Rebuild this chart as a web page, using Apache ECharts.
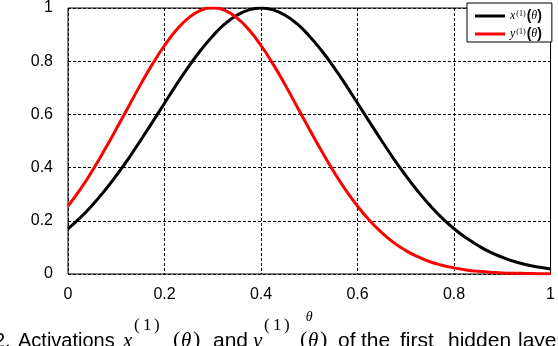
<!DOCTYPE html>
<html><head><meta charset="utf-8">
<script src="https://cdn.jsdelivr.net/npm/echarts@6/dist/echarts.min.js"></script>
<style>html,body{margin:0;padding:0;background:#fff;}#c{width:558px;height:346px;}</style>
</head><body><div id="c"></div>
<script>
const thetas = [0,0.025,0.05,0.075,0.1,0.125,0.15,0.175,0.2,0.225,0.25,0.275,0.3,0.325,0.35,0.375,0.4,0.425,0.45,0.475,0.5,0.525,0.55,0.575,0.6,0.625,0.65,0.675,0.7,0.725,0.75,0.775,0.8,0.825,0.85,0.875,0.9,0.925,0.95,0.975,1.0];
const xAct = [0.170,0.211,0.258,0.311,0.370,0.433,0.501,0.571,0.642,0.713,0.780,0.841,0.895,0.940,0.973,0.993,1.000,0.993,0.973,0.940,0.895,0.841,0.780,0.713,0.642,0.571,0.501,0.433,0.370,0.311,0.258,0.211,0.170,0.136,0.107,0.082,0.063,0.047,0.035,0.026,0.019];
const yAct = [0.255,0.317,0.387,0.464,0.545,0.628,0.711,0.789,0.859,0.918,0.963,0.991,1.000,0.991,0.963,0.918,0.859,0.789,0.711,0.628,0.545,0.464,0.387,0.317,0.255,0.201,0.156,0.118,0.088,0.065,0.046,0.033,0.023,0.015,0.010,0.007,0.004,0.003,0.002,0.001,0.001];
const xTicks = [0,0.2,0.4,0.6,0.8,1];
const yTicks = [0,0.2,0.4,0.6,0.8,1];
const seriesNames = ['x','y'];
// caption pieces: [text, kind]
const captionPieces = [
  ['2.','n'],['Activations','n'],['x','m'],['(','s'],['1','s'],[')','s'],['(','p'],['θ','m'],[')','p'],
  ['and','w'],['y','m'],['(','s'],['1','s'],[')','s'],['(','p'],['θ','m'],[')','p'],
  ['of','w'],['the','w'],['first','w'],['hidden','w'],['layer','w']
];
const captionX = [-6,18,123,134,143,154,173,181,193,213,253,264,273,284,300,308,320,338,361,400,448,518];

const serif = 'Liberation Serif';
const sans = 'Liberation Sans';
const kindStyle = {
  n:{font:'20px "Liberation Sans"', y:341},
  w:{font:'21px "Liberation Sans"', y:341},
  m:{font:'italic 21px "Liberation Serif"', y:341},
  p:{font:'22px "Liberation Serif"', y:340},
  s:{font:'17px "Liberation Serif"', y:326}
};
const graphics = captionPieces.map((p,i)=>({
  type:'text', z:10, silent:true,
  style:{text:p[0], x:captionX[i], y:kindStyle[p[1]].y, font:kindStyle[p[1]].font,
         fill:'#000', align:'left', verticalAlign:'middle'}
}));

const chart = echarts.init(document.getElementById('c'), null, {renderer:'canvas'});
const gridLine = {show:true, lineStyle:{color:'#000', type:[3,2], width:1}};
chart.setOption({
  animation:false,
  grid:{left:68, right:2, top:3, bottom:72, show:true, borderColor:'#000', borderWidth:1},
  xAxis:{type:'value', min:xTicks[0], max:xTicks[xTicks.length-1], interval:0.2,
    axisLine:{show:false}, axisTick:{show:false}, splitLine:gridLine,
    axisLabel:{color:'#000', fontFamily:sans, fontSize:16, margin:13},
    name:'θ', nameLocation:'middle', nameGap:36,
    nameTextStyle:{color:'#000', fontFamily:serif, fontStyle:'italic', fontSize:14}},
  yAxis:{type:'value', min:yTicks[0], max:yTicks[yTicks.length-1], interval:0.2,
    axisLine:{show:false}, axisTick:{show:false}, splitLine:gridLine,
    axisLabel:{color:'#000', fontFamily:sans, fontSize:16, margin:15}},
  legend:{orient:'vertical', left:467, top:3, itemWidth:30, itemHeight:3, itemGap:4,
    padding:[6,10,1,8], borderColor:'#000', borderWidth:1, backgroundColor:'#fff',
    icon:'rect',
    data:seriesNames,
    formatter:n => '{i|'+n+'}{s|(1)}{p|(}{i|θ}{p|)}',
    textStyle:{color:'#000', fontSize:12, lineHeight:12, rich:{
      i:{fontFamily:serif, fontStyle:'italic', fontSize:12, lineHeight:12},
      s:{fontFamily:serif, fontSize:8, lineHeight:12, verticalAlign:'top', padding:[0,1,3,1]},
      p:{fontFamily:sans, fontWeight:'bold', fontSize:14, lineHeight:12}
    }}},
  series:[
    {name:seriesNames[0], type:'line', showSymbol:false, smooth:true, color:'#000',
     lineStyle:{color:'#000', width:3}, data:thetas.map((t,i)=>[t,xAct[i]])},
    {name:seriesNames[1], type:'line', showSymbol:false, smooth:true, color:'#ff0000',
     lineStyle:{color:'#ff0000', width:3}, data:thetas.map((t,i)=>[t,yAct[i]])}
  ],
  graphic:graphics
});
</script></body></html>
